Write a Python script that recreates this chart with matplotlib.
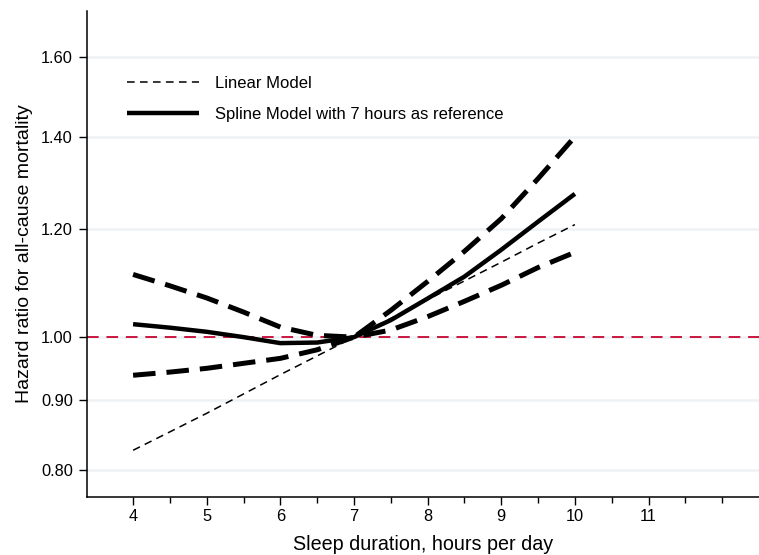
import matplotlib
matplotlib.use("Agg")
import matplotlib.pyplot as plt
from matplotlib.ticker import FixedLocator, NullFormatter, NullLocator

plt.rcParams['font.family'] = ['Liberation Sans', 'DejaVu Sans']

# Sleep duration (hours per day)
hours = [4, 4.5, 5, 5.5, 6, 6.5, 7, 7.5, 8, 8.5, 9, 9.5, 10]

# Linear model hazard ratios
linear_hr = [0.827, 0.853, 0.880, 0.909, 0.939, 0.969, 1.000, 1.032, 1.065, 1.099, 1.134, 1.171, 1.208]

# Spline model (7 h reference) and its confidence bounds
spline_hr = [1.022, 1.016, 1.009, 1.000, 0.990, 0.991, 1.000, 1.029, 1.067, 1.107, 1.158, 1.214, 1.272]
upper_ci = [1.111, 1.090, 1.068, 1.043, 1.017, 1.003, 1.000, 1.046, 1.098, 1.155, 1.220, 1.305, 1.400]
lower_ci = [0.938, 0.943, 0.949, 0.957, 0.965, 0.979, 1.000, 1.012, 1.035, 1.062, 1.091, 1.124, 1.153]

y_ticks = [0.80, 0.90, 1.00, 1.20, 1.40, 1.60]
y_tick_labels = ["0.80", "0.90", "1.00", "1.20", "1.40", "1.60"]
x_ticks = [4, 5, 6, 7, 8, 9, 10, 11]
x_minor = [4.5, 5.5, 6.5, 7.5, 8.5, 9.5, 10.5, 11.5, 12]

fig = plt.figure(figsize=(7.59, 5.55), dpi=100)
ax = fig.add_axes([86.7 / 759, (555 - 496.7) / 555, 1 - 86.7 / 759, (496.7 - 11) / 555])

ax.set_yscale('log')
ax.set_ylim(0.765, 1.729)
ax.set_xlim(3.37, 12.5)

for yt in y_ticks:
    ax.axhline(yt, color='#eef2f5', lw=1.8, zorder=0)

ax.axhline(1.0, color='#c8173f', lw=1.4, dashes=(6, 4), zorder=1)

ax.plot(hours, linear_hr, color='black', lw=1.1, dashes=(5, 3.5), label='Linear Model', zorder=3)
ax.plot(hours, spline_hr, color='black', lw=3.2, solid_capstyle='butt',
        label='Spline Model with 7 hours as reference', zorder=3)
ax.plot(hours, upper_ci, color='black', lw=3.6, dashes=(4.5, 2.2), zorder=3)
ax.plot(hours, lower_ci, color='black', lw=3.6, dashes=(4.5, 2.2), zorder=3)

ax.yaxis.set_major_locator(FixedLocator(y_ticks))
ax.set_yticklabels(y_tick_labels)
ax.yaxis.set_minor_locator(NullLocator())
ax.yaxis.set_minor_formatter(NullFormatter())

ax.set_xticks(x_ticks)
ax.set_xticklabels([str(x) for x in x_ticks])
ax.xaxis.set_minor_locator(FixedLocator(x_minor))

ax.tick_params(axis='both', which='major', length=6, width=1.0, labelsize=11.8, color='black')
ax.tick_params(axis='x', which='minor', length=4, width=1.0)
ax.tick_params(axis='x', pad=3)
ax.tick_params(axis='y', pad=4)

for s in ['top', 'right']:
    ax.spines[s].set_visible(False)
for s in ['left', 'bottom']:
    ax.spines[s].set_linewidth(1.1)

ax.set_xlabel('Sleep duration, hours per day', fontsize=14.2, labelpad=8)
ax.set_ylabel('Hazard ratio for all-cause mortality', fontsize=14, labelpad=6)

leg = ax.legend(loc='upper left', bbox_to_anchor=(0.0377, 0.897), frameon=False,
                fontsize=12, handlelength=4.3, handletextpad=1.0, labelspacing=0.95)

fig.savefig('out.png', dpi=100)
